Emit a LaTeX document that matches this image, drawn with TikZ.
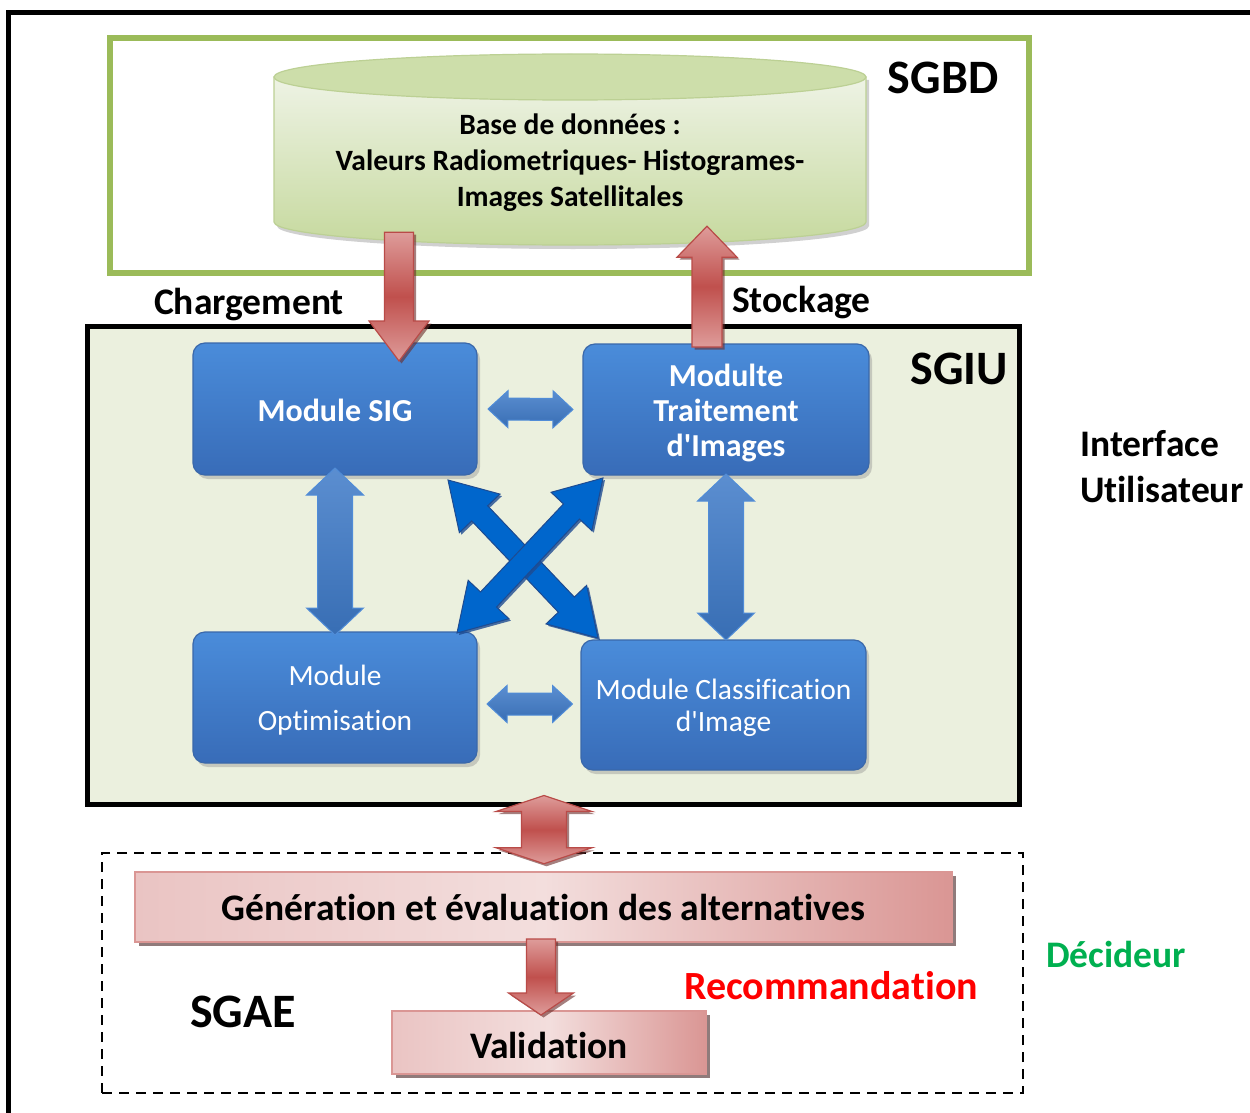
\documentclass[tikz,border=0pt]{standalone}
\usepackage{fontspec}
\setmainfont{Carlito}[Ligatures={TeX,NoCommon}]
\usetikzlibrary{calc,shadows}

\definecolor{sgbdgreen}{RGB}{155,187,89}
\definecolor{sgiufill}{RGB}{235,240,222}
\definecolor{dbtop}{RGB}{205,222,170}
\definecolor{dblight}{RGB}{238,243,229}
\definecolor{dbdark}{RGB}{198,217,158}
\definecolor{dbedge}{RGB}{188,208,148}
\definecolor{boxtop}{RGB}{74,140,218}
\definecolor{boxbot}{RGB}{56,108,184}
\definecolor{boxedge}{RGB}{58,104,170}
\definecolor{arrowblue}{RGB}{62,122,200}
\definecolor{arrowedge}{RGB}{80,140,215}
\definecolor{crossblue}{RGB}{0,102,204}
\definecolor{crossedge}{RGB}{30,75,145}
\definecolor{redmid}{RGB}{192,80,77}
\definecolor{redlight}{RGB}{222,156,154}
\definecolor{rededge}{RGB}{185,75,72}
\definecolor{pinklight}{RGB}{243,222,221}
\definecolor{pinkmid}{RGB}{234,196,195}
\definecolor{pinkdark}{RGB}{218,150,148}
\definecolor{decgreen}{RGB}{0,176,80}

\newcommand\fs[2]{\fontsize{#1}{#2}\selectfont}
\newcommand\apos{\textquotesingle}
% lower the text inside a box without changing the box's own size
\newcommand\lowertext[2]{\raisebox{-#1}[\height][\depth]{#2}}

% single block arrow: style, tail, tip, shaft half-width, head half-width, head length
\newcommand\blockarrow[6]{%
  \coordinate (ba-a) at (#2);
  \coordinate (ba-b) at (#3);
  \coordinate (ba-c) at ($(ba-b)!#6!(ba-a)$);
  \path[#1] ($(ba-a)!#4!90:(ba-b)$) -- ($(ba-c)!#4!-90:(ba-a)$)
    -- ($(ba-c)!#5!-90:(ba-a)$) -- (ba-b) -- ($(ba-c)!#5!90:(ba-a)$)
    -- ($(ba-c)!#4!90:(ba-a)$) -- ($(ba-a)!#4!-90:(ba-b)$) -- cycle;
}
% double block arrow: style, end, end, shaft half-width, head half-width, head length
\newcommand\blockdarrow[6]{%
  \coordinate (bd-a) at (#2);
  \coordinate (bd-b) at (#3);
  \coordinate (bd-c) at ($(bd-a)!#6!(bd-b)$);
  \coordinate (bd-d) at ($(bd-b)!#6!(bd-a)$);
  \path[#1] (bd-a) -- ($(bd-c)!#5!90:(bd-b)$) -- ($(bd-c)!#4!90:(bd-b)$)
    -- ($(bd-d)!#4!-90:(bd-a)$) -- ($(bd-d)!#5!-90:(bd-a)$) -- (bd-b)
    -- ($(bd-d)!#5!90:(bd-a)$) -- ($(bd-d)!#4!90:(bd-a)$)
    -- ($(bd-c)!#4!-90:(bd-b)$) -- ($(bd-c)!#5!-90:(bd-b)$) -- cycle;
}

\tikzset{
  module/.style={rectangle, rounded corners=12pt, draw=boxedge, line width=1.2pt,
    top color=boxtop, bottom color=boxbot, text=white, align=center,
    inner sep=0pt, outer sep=0pt,
    drop shadow={shadow xshift=3pt, shadow yshift=-4pt, opacity=0.35}},
  pinkbox/.style={rectangle, draw=pinkdark, line width=1.5pt,
    left color=pinkmid, right color=pinkdark, middle color=pinklight,
    inner sep=0pt, outer sep=0pt,
    drop shadow={shadow xshift=4pt, shadow yshift=-4pt, fill=black!55!pinkdark, opacity=0.7}},
  redarrow/.style={draw=rededge, line width=1.2pt, line join=miter,
    top color=redlight, bottom color=redlight, middle color=redmid,
    drop shadow={shadow xshift=2.5pt, shadow yshift=-2.5pt, fill=redmid!55!black, opacity=0.6}},
  bluearrow/.style={draw=arrowedge, line width=1pt, line join=miter,
    top color=arrowblue!85!white, bottom color=arrowblue!90!black},
  crossarrow/.style={draw=crossedge, line width=1pt, line join=miter, fill=crossblue,
    drop shadow={shadow xshift=2pt, shadow yshift=-2pt, fill=crossedge, opacity=0.8}},
  label/.style={font=\bfseries\fs{37.5}{44}, inner sep=0pt},
  biglabel/.style={font=\bfseries\fs{48}{56}, inner sep=0pt},
}

\begin{document}
\begin{tikzpicture}[x=1pt, y=-1pt]
\fill[white] (0,0) rectangle (1250,1113);
\useasboundingbox (0,0) rectangle (1250,1113);

% outer frame (only its left and top sides lie inside the page)
\draw[line width=5pt] (8.5,1120) -- (8.5,12.5) -- (1260,12.5);

% ---------- SGBD ----------
\node[draw=sgbdgreen, line width=6pt, minimum width=919pt, minimum height=234.5pt,
      inner sep=0pt] (sgbd) at (569.5,155.75) {};
\node[biglabel] (sgbdlbl) at (943,78) {SGBD};

% database cylinder
\fill[black!30, opacity=0.6] (277,80) -- (277,226) .. controls (277,238.7) and (409.5,249) .. (573,249)
  .. controls (736.5,249) and (869,238.7) .. (869,226) -- (869,80) -- cycle;
\path[draw=dbedge, line width=1.2pt, top color=dblight, bottom color=dbdark]
  (274,77) -- (274,222) .. controls (274,234.7) and (406.5,245) .. (570,245)
  .. controls (733.5,245) and (866,234.7) .. (866,222) -- (866,77) -- cycle;
\filldraw[fill=dbtop, draw=dbedge, line width=1.2pt] (570,77) ellipse [x radius=296pt, y radius=23pt];
\node[inner sep=0pt, minimum width=592pt, minimum height=192pt] (db) at (570,149) {};
\node[font=\bfseries\fs{29.5}{36}, align=center, inner sep=0pt] (dbtext) at (570,163)
  {Base de données :\\Valeurs Radiometriques- Histogrames-\\Images Satellitales};

% ---------- SGIU ----------
\node[draw=black, fill=sgiufill, line width=5pt, minimum width=932pt, minimum height=478pt,
      inner sep=0pt] (sgiu) at (553.5,565.5) {};
\node[biglabel] (sgiulbl) at (959,369) {SGIU};

\node[module, minimum width=284pt, minimum height=132pt, font=\bfseries\fs{32}{35}]
  (sig) at (335,409) {\lowertext{1pt}{Module SIG}};
\node[module, minimum width=286pt, minimum height=131pt, font=\bfseries\fs{32}{35}]
  (trait) at (726,409.5) {\lowertext{5pt}{\begin{tabular}{@{}c@{}}Modulte\\Traitement\\d\apos Images\end{tabular}}};
\node[module, minimum width=284pt, minimum height=131pt, font=\fs{29.4}{45}]
  (optim) at (335,697.5) {\lowertext{1.5pt}{\begin{tabular}{@{}c@{}}Module\\Optimisation\end{tabular}}};
\node[module, minimum width=285pt, minimum height=130pt, font=\fs{29.5}{32}]
  (classif) at (723.5,705) {\lowertext{4pt}{\begin{tabular}{@{}c@{}}Module Classification\\d\apos Image\end{tabular}}};

% links between the modules
\blockdarrow{bluearrow}{$(sig.east)+(11,0)$}{$(trait.west)+(-10,0)$}{11pt}{18.5pt}{20pt}
\blockdarrow{bluearrow}{$(optim.east)+(10,6.5)$}{$(classif.west)+(-8.5,-1)$}{11pt}{18.5pt}{20pt}
\blockdarrow{bluearrow}{$(sig.south)+(0,-7)$}{$(optim.north)+(0,3)$}{17.5pt}{28.5pt}{27pt}
\blockdarrow{bluearrow}{$(trait.south)+(0,-1)$}{$(classif.north)+(2.5,0)$}{17.5pt}{28.5pt}{27pt}
\blockdarrow{crossarrow}{$(sig.south east)+(-29,5)$}{$(classif.north west)+(17,-2)$}{11pt}{28pt}{46pt}
\blockdarrow{crossarrow}{$(trait.south west)+(20,3)$}{$(optim.north east)+(-20,1)$}{11pt}{28pt}{46pt}

% loading and storing
\blockarrow{redarrow}{$(db.south)+(-171,-13)$}{$(sig.north)+(64,18)$}{14.5pt}{30pt}{40pt}
\blockarrow{redarrow}{$(trait.north)+(-19,3)$}{$(db.south)+(137,-19)$}{15pt}{30pt}{31pt}
\node[label] (chg) at (249,305) {Chargement};
\node[label, anchor=west] (stk) at (732,303) {Stockage};

\node[label, align=left, anchor=west, font=\bfseries\fs{37.5}{46}] (iu) at (1080,467)
  {Interface\\Utilisateur};

% ---------- SGAE ----------
\node[draw=black, line width=2.5pt, dash pattern=on 10pt off 7pt, minimum width=921pt,
      minimum height=240pt, inner sep=0pt] (sgae) at (562.5,973) {};
\node[pinkbox, minimum width=817pt, minimum height=70pt, font=\bfseries\fs{37.5}{44}]
  (gen) at (543.5,907) {Génération et évaluation des alternatives};
\node[pinkbox, minimum width=314pt, minimum height=63pt, font=\bfseries\fs{37.5}{44}]
  (val) at (549,1042.5) {\lowertext{3pt}{Validation}};

\blockdarrow{redarrow}{$(sgiu.south)+(-9.5,-11.5)$}{$(sgae.north)+(-18.5,12)$}{22.5pt}{48pt}{16pt}
\blockarrow{redarrow}{$(gen.south)+(-2.5,-3)$}{$(val.north)+(-8,4)$}{14.5pt}{32.5pt}{22pt}

\node[biglabel] (sgaelbl) at (243,1012) {SGAE};
\node[label, text=red, font=\bfseries\fs{40}{44}] (rec) at (831,986) {Recommandation};
\node[label, text=decgreen] (dec) at (1116,954) {Décideur};
\end{tikzpicture}
\end{document}
